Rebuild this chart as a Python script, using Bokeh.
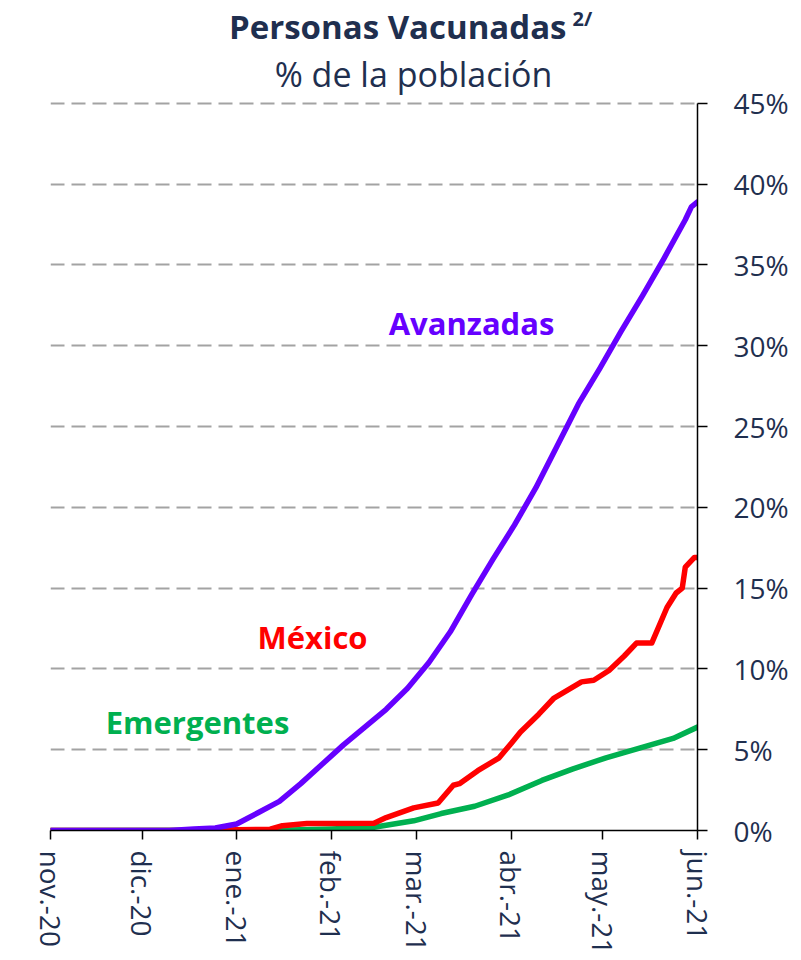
import pandas as pd
from bokeh.plotting import figure
from bokeh.models import Range1d, FixedTicker, Label, ColumnDataSource
from bokeh.embed import file_html
from bokeh.resources import INLINE

# ---------------- data ----------------
av_dates = ["2020-11-01", "2020-12-10", "2020-12-18", "2020-12-25", "2021-01-01", "2021-01-08",
            "2021-01-15", "2021-01-22", "2021-01-29", "2021-02-05", "2021-02-12", "2021-02-19",
            "2021-02-26", "2021-03-05", "2021-03-12", "2021-03-19", "2021-03-26", "2021-04-02",
            "2021-04-09", "2021-04-16", "2021-04-23", "2021-04-30", "2021-05-07", "2021-05-14",
            "2021-05-21", "2021-05-28", "2021-05-30", "2021-06-01"]
av_vals = [0, 0, 0.1, 0.15, 0.4, 1.1, 1.8, 2.9, 4.1, 5.3, 6.4, 7.5, 8.8, 10.4, 12.3, 14.6,
           16.8, 18.9, 21.2, 23.8, 26.4, 28.6, 30.9, 33.1, 35.4, 37.8, 38.6, 38.9]

mx_dates = ["2020-11-01", "2020-12-24", "2021-01-01", "2021-01-12", "2021-01-16", "2021-01-24",
            "2021-02-15", "2021-02-19", "2021-02-28", "2021-03-08", "2021-03-13", "2021-03-15",
            "2021-03-21", "2021-03-28", "2021-04-01", "2021-04-04", "2021-04-10", "2021-04-15",
            "2021-04-24", "2021-04-28", "2021-05-03", "2021-05-08", "2021-05-12", "2021-05-17",
            "2021-05-22", "2021-05-25", "2021-05-27", "2021-05-28", "2021-05-31", "2021-06-01"]
mx_vals = [0, 0, 0.05, 0.08, 0.3, 0.43, 0.45, 0.8, 1.4, 1.7, 2.8, 2.9, 3.7, 4.5, 5.4, 6.1,
           7.2, 8.2, 9.2, 9.3, 9.9, 10.8, 11.6, 11.6, 13.8, 14.7, 15.0, 16.3, 16.9, 16.9]

em_dates = ["2020-11-01", "2021-01-15", "2021-02-01", "2021-02-15", "2021-02-28", "2021-03-09",
            "2021-03-20", "2021-03-31", "2021-04-11", "2021-04-21", "2021-05-02", "2021-05-13",
            "2021-05-24", "2021-06-01"]
em_vals = [0, 0.02, 0.1, 0.2, 0.6, 1.05, 1.5, 2.2, 3.1, 3.8, 4.5, 5.1, 5.7, 6.4]

x_tick_dates = ["2020-11-01", "2020-12-01", "2021-01-01", "2021-02-01", "2021-03-01",
                "2021-04-01", "2021-05-01", "2021-06-01"]
x_tick_labels = ["nov.-20", "dic.-20", "ene.-21", "feb.-21", "mar.-21", "abr.-21", "may.-21", "jun.-21"]
y_ticks = [0, 5, 10, 15, 20, 25, 30, 35, 40, 45]
y_tick_labels = ["0%", "5%", "10%", "15%", "20%", "25%", "30%", "35%", "40%", "45%"]

title_main = "Personas Vacunadas"
title_sup = "2/"
subtitle = "% de la población"

# ---------------- style ----------------
FONT = "Open Sans"
TXT = "#1F2F4F"
PURPLE = "#6600FF"
RED = "#FF0000"
GREEN = "#00B050"


def ms(s):
    return float(pd.Timestamp(s).value // 10**6)


# frame spans page y 0..830; 45% sits at y=103 -> top of range ~51.37
p = figure(width=795, height=960, x_axis_type="datetime", y_axis_location="right",
           output_backend="svg", toolbar_location=None,
           min_border_left=50, min_border_right=98, min_border_top=0, min_border_bottom=130,
           x_range=Range1d(ms(x_tick_dates[0]), ms(x_tick_dates[-1])),
           y_range=Range1d(0, 51.37))
p.outline_line_color = None
p.background_fill_color = "white"
p.border_fill_color = "white"

p.xgrid.visible = False
yt = FixedTicker(ticks=y_ticks)
p.yaxis.ticker = yt
p.ygrid.ticker = yt
p.yaxis.bounds = (0, 45)
p.ygrid.grid_line_color = "#A3A3A3"
p.ygrid.grid_line_dash = "14 7"
p.ygrid.grid_line_width = 2

p.yaxis.major_label_overrides = {t: l for t, l in zip(y_ticks, y_tick_labels)}
xt = [ms(d) for d in x_tick_dates]
p.xaxis.ticker = FixedTicker(ticks=xt)
p.xaxis.major_label_overrides = {t: l for t, l in zip(xt, x_tick_labels)}
p.xaxis.major_label_orientation = "vertical"

for ax in (p.xaxis, p.yaxis):
    ax.axis_line_color = "black"
    ax.axis_line_width = 1.5
    ax.major_tick_line_color = "black"
    ax.major_tick_line_width = 1.5
    ax.major_tick_in = 0
    ax.minor_tick_line_color = None
    ax.major_label_text_font = FONT
    ax.major_label_text_color = TXT
    ax.major_label_text_font_size = "28px"
p.xaxis.major_tick_out = 9
p.xaxis.major_label_standoff = 11
p.yaxis.major_tick_out = 10
p.yaxis.major_label_standoff = 26

src_em = ColumnDataSource(dict(x=pd.to_datetime(em_dates), y=em_vals))
src_mx = ColumnDataSource(dict(x=pd.to_datetime(mx_dates), y=mx_vals))
src_av = ColumnDataSource(dict(x=pd.to_datetime(av_dates), y=av_vals))
for src, col in ((src_em, GREEN), (src_mx, RED), (src_av, PURPLE)):
    p.line("x", "y", source=src, line_color=col, line_width=5.5, line_join="round", line_cap="round")

# series labels (screen units relative to plot frame: left=50, bottom=830 on page)
for txt, col, sx, sy in [("Avanzadas", PURPLE, 421, 508),
                         ("México", RED, 262, 194),
                         ("Emergentes", GREEN, 147, 109)]:
    p.add_layout(Label(x=sx, y=sy, x_units="screen", y_units="screen", text=txt,
                       text_font=FONT, text_font_style="bold", text_font_size="31px",
                       text_color=col, text_align="center", text_baseline="middle"))

# title
p.add_layout(Label(x=516, y=804, x_units="screen", y_units="screen", text=title_main,
                   text_font=FONT, text_font_style="bold", text_font_size="33px",
                   text_color=TXT, text_align="right", text_baseline="alphabetic"))
p.add_layout(Label(x=522, y=812, x_units="screen", y_units="screen", text=title_sup,
                   text_font=FONT, text_font_style="bold", text_font_size="20px",
                   text_color=TXT, text_align="left", text_baseline="alphabetic"))
p.add_layout(Label(x=363, y=757, x_units="screen", y_units="screen", text=subtitle,
                   text_font=FONT, text_font_style="normal", text_font_size="34px",
                   text_color=TXT, text_align="center", text_baseline="alphabetic"))

open("out.html", "w").write(file_html(p, INLINE))
